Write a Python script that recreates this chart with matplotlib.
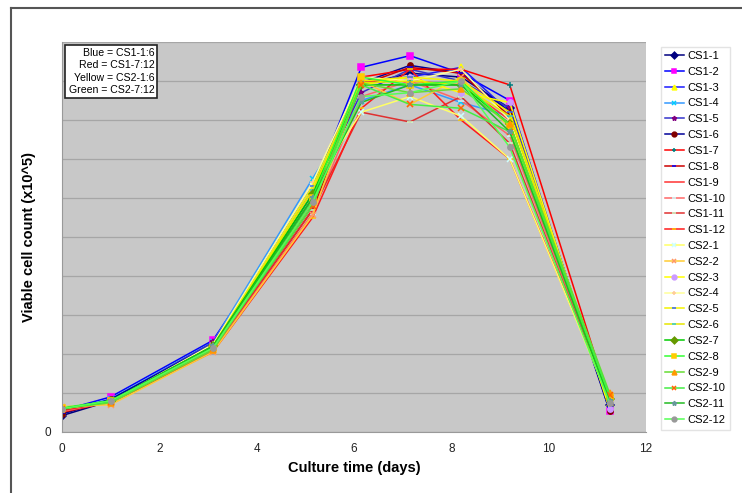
import matplotlib
matplotlib.use("Agg")
import matplotlib.pyplot as plt
from matplotlib.lines import Line2D

plt.rcParams['font.family'] = ['Liberation Sans', 'DejaVu Sans']

# culture times (days) and viable cell counts (x10^5)
days = [0, 1, 3.1, 5.15, 6.15, 7.15, 8.2, 9.2, 11.25]

names = ['CS1-1', 'CS1-2', 'CS1-3', 'CS1-4', 'CS1-5', 'CS1-6',
         'CS1-7', 'CS1-8', 'CS1-9', 'CS1-10', 'CS1-11', 'CS1-12',
         'CS2-1', 'CS2-2', 'CS2-3', 'CS2-4', 'CS2-5', 'CS2-6',
         'CS2-7', 'CS2-8', 'CS2-9', 'CS2-10', 'CS2-11', 'CS2-12']

cs1_1 = [0.42, 0.80, 2.25, 6.0, 8.9, 9.2, 9.1, 8.3, 0.7]
cs1_2 = [0.55, 0.90, 2.35, 6.2, 9.35, 9.65, 9.2, 8.5, 0.55]
cs1_3 = [0.50, 0.82, 2.28, 6.3, 9.0, 9.1, 9.35, 8.2, 0.75]
cs1_4 = [0.52, 0.85, 2.30, 6.5, 8.5, 8.9, 8.45, 8.1, 0.8]
cs1_5 = [0.48, 0.82, 2.30, 6.1, 8.7, 9.3, 9.0, 8.3, 0.7]
cs1_6 = [0.46, 0.84, 2.25, 5.9, 8.95, 9.4, 9.2, 8.2, 0.55]
cs1_7 = [0.55, 0.78, 2.15, 5.8, 9.1, 9.3, 9.3, 8.9, 0.8]
cs1_8 = [0.50, 0.77, 2.10, 5.7, 8.9, 9.35, 9.2, 8.1, 0.65]
cs1_9 = [0.55, 0.76, 2.15, 5.9, 9.0, 9.0, 8.9, 8.0, 0.7]
cs1_10 = [0.52, 0.78, 2.10, 5.6, 8.6, 9.0, 8.5, 7.6, 0.75]
cs1_11 = [0.55, 0.78, 2.12, 5.7, 8.2, 7.95, 8.6, 7.4, 0.75]
cs1_12 = [0.58, 0.75, 2.05, 5.5, 8.3, 9.3, 8.0, 7.0, 0.85]
cs2_1 = [0.60, 0.75, 2.20, 6.3, 8.2, 8.6, 8.1, 7.0, 0.8]
cs2_2 = [0.65, 0.70, 2.05, 5.56, 9.0, 8.4, 9.1, 7.8, 0.85]
cs2_3 = [0.60, 0.78, 2.20, 6.2, 8.9, 9.1, 8.7, 8.45, 0.6]
cs2_4 = [0.62, 0.78, 2.25, 6.4, 9.1, 9.0, 9.3, 8.0, 0.9]
cs2_5 = [0.60, 0.78, 2.20, 6.3, 9.0, 9.1, 9.0, 8.2, 0.75]
cs2_6 = [0.60, 0.78, 2.20, 6.2, 8.95, 9.0, 8.9, 8.1, 0.8]
cs2_7 = [0.60, 0.80, 2.20, 6.1, 8.9, 8.9, 8.9, 7.9, 0.85]
cs2_8 = [0.62, 0.80, 2.15, 6.0, 9.1, 8.9, 9.0, 7.85, 0.9]
cs2_9 = [0.60, 0.75, 2.10, 5.9, 8.95, 8.7, 8.8, 7.9, 1.0]
cs2_10 = [0.60, 0.78, 2.15, 5.8, 8.9, 8.4, 8.3, 7.7, 0.95]
cs2_11 = [0.60, 0.80, 2.20, 6.0, 8.45, 8.9, 8.9, 7.7, 0.8]
cs2_12 = [0.60, 0.80, 2.15, 5.9, 8.6, 8.7, 9.0, 7.3, 0.75]

counts = [cs1_1, cs1_2, cs1_3, cs1_4, cs1_5, cs1_6,
          cs1_7, cs1_8, cs1_9, cs1_10, cs1_11, cs1_12,
          cs2_1, cs2_2, cs2_3, cs2_4, cs2_5, cs2_6,
          cs2_7, cs2_8, cs2_9, cs2_10, cs2_11, cs2_12]

# Excel-ish styling: line colour by group, marker cycles through defaults
line_colors = ['#000080', '#0000ff', '#1a1aff', '#3399ff', '#3333cc', '#000099',
               '#ff0000', '#cc0000', '#ff3333', '#ff6666', '#e03030', '#ff1a1a',
               '#ffff66', '#ffcc33', '#ffff00', '#ffff99', '#f2f200', '#e6e600',
               '#00cc00', '#33ff33', '#66dd33', '#44ee44', '#22bb22', '#55ff55']
markers = ['D', 's', '^', 'x', '*', 'o', '+', '_', '', '_', '_', '_',
           'x', 'x', 'o', '+', '_', '_', 'D', 's', '^', 'x', '*', 'o']
marker_colors = ['#000080', '#ff00ff', '#ffff00', '#00ccff', '#800080', '#800000',
                 '#008080', '#0000ff', '#ff0000', '#ccffff', '#ccffcc', '#ffcc00',
                 '#ccffff', '#ff9966', '#cc99ff', '#ffcc99', '#3366ff', '#33cccc',
                 '#669900', '#ffcc00', '#ff9900', '#ff6600', '#669999', '#999999']

fig = plt.figure(figsize=(7.42, 4.93), dpi=100)
ax = fig.add_axes([62 / 742, 61 / 493, 584 / 742, 390 / 493])
ax.set_facecolor('#c8c8c8')

for name, y, lc, mk, mc in zip(names, counts, line_colors, markers, marker_colors):
    ax.plot(days, y, color=lc, lw=1.1, marker=mk if mk else None, ms=3.8,
            mfc=mc, mec=mc, mew=1.1, label=name)

ax.set_xlim(0, 12)
ax.set_ylim(0, 10)
ax.set_xticks(range(0, 13, 2))
ax.set_yticks(range(0, 11))
ax.set_yticklabels(['0'] + [''] * 10)
ax.tick_params(axis='both', length=0, labelsize=8.5, colors='#222222')
ax.tick_params(axis='x', pad=8)
ax.tick_params(axis='y', pad=8)
ax.grid(axis='y', color='#a6a6a6', lw=0.9)
ax.set_axisbelow(True)
for side in ['top', 'right']:
    ax.spines[side].set_visible(False)
for side in ['left', 'bottom']:
    ax.spines[side].set_color('#999999')

ax.set_xlabel('Culture time (days)', fontsize=10.5, fontweight='bold', labelpad=4)
ax.set_ylabel('Viable cell count (x10^5)', fontsize=10.5, fontweight='bold', labelpad=6)

ax.text(0.158, 0.985, 'Blue = CS1-1:6\nRed = CS1-7:12\nYellow = CS2-1:6\nGreen = CS2-7:12',
        transform=ax.transAxes, ha='right', va='top', fontsize=7.6, linespacing=1.3,
        bbox=dict(facecolor='white', edgecolor='#222222', lw=1.2, boxstyle='square,pad=0.3'))

leg = fig.legend(loc='upper left', bbox_to_anchor=(655 / 742, 1 - 41 / 493),
                 fontsize=8, labelspacing=0.525, handlelength=1.7, handletextpad=0.3,
                 borderpad=0.4, frameon=True, fancybox=False, edgecolor='#dddddd',
                 markerscale=0.9)
leg.get_frame().set_linewidth(1.0)

# outer frame (top and left edges visible in the reference)
fig.add_artist(Line2D([11 / 742, 11 / 742], [0, 1 - 8 / 493], transform=fig.transFigure,
                      color='#555555', lw=1.5))
fig.add_artist(Line2D([11 / 742, 1], [1 - 8 / 493, 1 - 8 / 493], transform=fig.transFigure,
                      color='#555555', lw=1.5))

fig.savefig('out.png', dpi=100)
